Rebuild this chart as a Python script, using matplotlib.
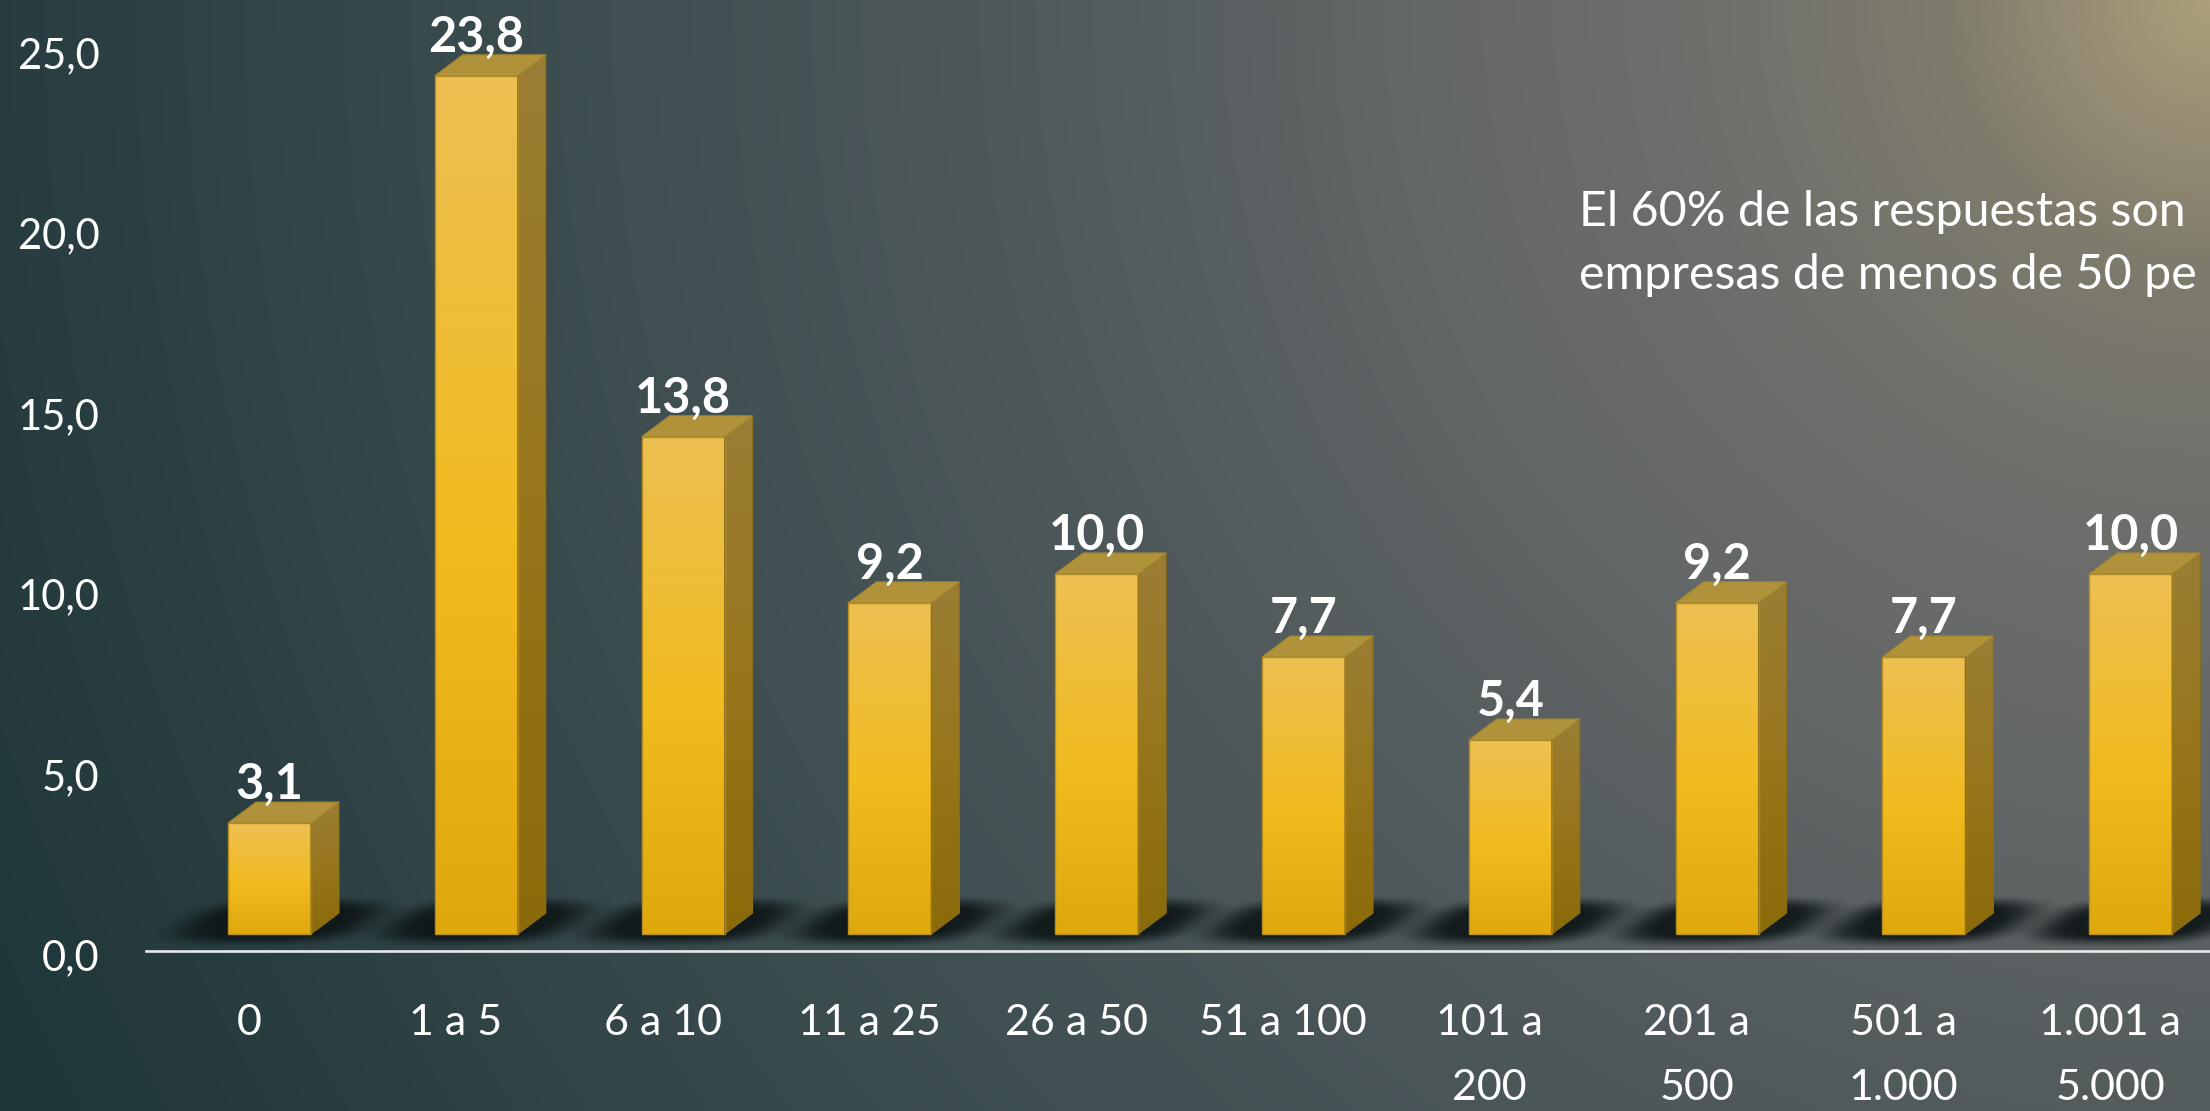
import numpy as np
import matplotlib
matplotlib.use("Agg")
import matplotlib.pyplot as plt
from matplotlib.colors import LinearSegmentedColormap
from matplotlib.patches import Polygon
from matplotlib.transforms import ScaledTranslation

plt.rcParams['font.family'] = ['Lato', 'DejaVu Sans']

categories = ['0', '1 a 5', '6 a 10', '11 a 25', '26 a 50', '51 a 100',
              '101 a\n200', '201 a\n500', '501 a\n1.000', '1.001 a\n5.000']
values = [3.1, 23.8, 13.8, 9.2, 10.0, 7.7, 5.4, 9.2, 7.7, 10.0]
y_ticks = [0, 5, 10, 15, 20, 25]
note_lines = ['El 60% de las respuestas son', 'empresas de menos de 50 pe']

W, H = 2210, 1111
CAT_PX = 206.8    # pixels per category
VAL_PX = 36.1     # pixels per percentage point
FLOOR_Y = 951     # pixel row of the axis line
FIRST_X = 249     # pixel column of the first category

fig = plt.figure(figsize=(W / 100, H / 100), dpi=100)

# background: radial glow from the top right corner
bg = fig.add_axes([0, 0, 1, 1], zorder=-1)
bg.axis('off')
yy, xx = np.mgrid[0:H, 0:W]
dist = np.hypot(W - xx, yy)
stops_d = [0, 120, 260, 480, 800, 1150, 1600, 2000, 2300, 2500]
stops_c = np.array([[172, 160, 122], [152, 143, 116], [128, 124, 108], [112, 112, 108],
                    [99, 103, 103], [81, 90, 92], [63, 79, 82], [48, 67, 70],
                    [36, 58, 61], [28, 54, 58]]) / 255
bg_img = np.dstack([np.interp(dist, stops_d, stops_c[:, k]) for k in range(3)])
bg.imshow(bg_img, aspect='auto', interpolation='bilinear')

left = (FIRST_X - CAT_PX / 2) / W
ax = fig.add_axes([left, 1 - FLOOR_Y / H, 1 - left, FLOOR_Y / H])
ax.patch.set_alpha(0)

# pixel sizes expressed in data units
px = 1 / CAT_PX
py = 1 / VAL_PX
off_x = -21 * px     # front face starts left of the category centre
bar_w = 83 * px
depth_x = 28 * px
depth_y = 21 * py
base_y = 17 * py     # front face stands above the axis line

front_cmap = LinearSegmentedColormap.from_list('front', [(0, '#edc052'), (0.55, '#f1bb1e'), (1, '#dfa90e')])
side_cmap = LinearSegmentedColormap.from_list('side', ['#9b7e35', '#97761c', '#8b6a0a'])
ramp = np.linspace(0, 1, 256).reshape(-1, 1)

# soft shadow lying on the floor, sheared like the bar depth
sv, su = np.mgrid[40:-16:-1, -85:190:1]
shear_u = (su - 50) - 1.33 * (sv - 13)
r = (np.abs(shear_u / 118) ** 3 + np.abs((sv - 13) / 27) ** 3) ** (1 / 3)
fade = np.clip((1 - r) / 0.5, 0, 1)
shadow = np.zeros(r.shape + (4,))
shadow[..., :3] = np.array([14, 22, 23]) / 255
shadow[..., 3] = 0.92 * fade * fade * (3 - 2 * fade)

for i, v in enumerate(values):
    x0 = i + off_x
    x1 = x0 + bar_w
    y0 = base_y
    y1 = base_y + v - 1 * py

    ax.imshow(shadow, extent=[x0 - 85 * px, x0 + 190 * px, y0 - 16 * py, y0 + 40 * py],
              aspect='auto', interpolation='bilinear', zorder=1)

    ax.imshow(ramp, extent=[x0, x1, y0, y1], cmap=front_cmap, vmin=0, vmax=1,
              aspect='auto', zorder=3)
    ax.add_patch(Polygon([(x0, y0), (x1, y0), (x1, y1), (x0, y1)], closed=True,
                         fill=False, ec='#b88f1e', lw=1, zorder=4))

    side = ax.imshow(ramp, extent=[x1, x1 + depth_x, y0, y1 + depth_y], cmap=side_cmap,
                     vmin=0, vmax=1, aspect='auto', zorder=3)
    side_poly = Polygon([(x1, y0), (x1 + depth_x, y0 + depth_y), (x1 + depth_x, y1 + depth_y), (x1, y1)],
                        closed=True, fc='none', ec='#8b6d1c', lw=0.8, zorder=4)
    ax.add_patch(side_poly)
    side.set_clip_path(side_poly)

    ax.add_patch(Polygon([(x0, y1), (x1, y1), (x1 + depth_x, y1 + depth_y), (x0 + depth_x, y1 + depth_y)],
                         closed=True, fc='#b0923a', ec='#a5882f', lw=0.8, zorder=4))

    ax.text((x0 + x1) / 2, y1 + 24 * py, f'{v:.1f}'.replace('.', ','), color='white',
            fontsize=35, fontweight='bold', ha='center', va='baseline', zorder=6)

ax.set_xlim(-0.5, (W - FIRST_X) / CAT_PX)
ax.set_ylim(0, FLOOR_Y / VAL_PX)

for s in ['top', 'left', 'right']:
    ax.spines[s].set_visible(False)
ax.spines['bottom'].set_color('#e6eaea')
ax.spines['bottom'].set_linewidth(1.9)

ax.set_xticks(range(len(categories)))
ax.set_xticklabels(categories, color='white', fontsize=31, linespacing=1.88, va='top')
ax.set_yticks(y_ticks)
ax.set_yticklabels([f'{t:.1f}'.replace('.', ',') for t in y_ticks], color='white', fontsize=30)
ax.tick_params(axis='both', length=0)
ax.tick_params(axis='x', pad=38)
ax.tick_params(axis='y', pad=33)

# tick labels sit a little below their gridline position
nudge = ScaledTranslation(0, -4 / 100, fig.dpi_scale_trans)
for lab in ax.get_yticklabels():
    lab.set_transform(lab.get_transform() + nudge)

fig.text(1579 / W, 1 - 226 / H, note_lines[0], color='white', fontsize=34.8, va='baseline')
fig.text(1579 / W, 1 - 289 / H, note_lines[1], color='white', fontsize=34.8, va='baseline')

fig.savefig('out.png', dpi=100)
